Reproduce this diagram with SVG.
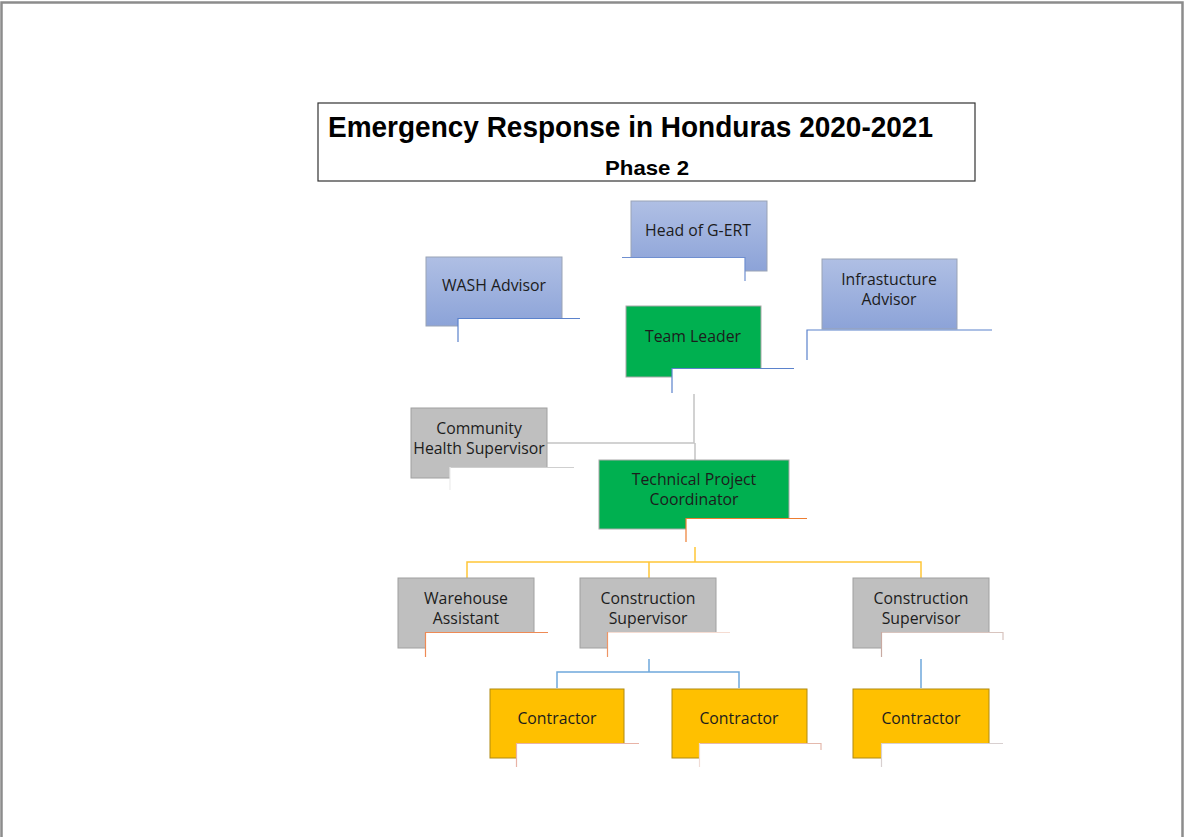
<svg xmlns="http://www.w3.org/2000/svg" width="1184" height="837" viewBox="0 0 1184 837">
<defs>
<linearGradient id="blueGrad" x1="0" y1="0" x2="0" y2="1">
<stop offset="0" stop-color="#afbfe4"/>
<stop offset="1" stop-color="#8ca3d8"/>
</linearGradient>
</defs>
<style>
.lbl{font-family:"Open Sans","Liberation Sans",sans-serif;font-size:15.8px;fill:#1c1c1c;text-anchor:middle}
.blue{fill:url(#blueGrad);stroke:#9aa3b5;stroke-width:1}
.grey{fill:#bfbfbf;stroke:#a0a0a0;stroke-width:1}
.green{fill:#00b050;stroke:#a8a8a8;stroke-width:1}
.yellow{fill:#ffc000;stroke:#b08a10;stroke-width:1}
.cover{fill:#ffffff;stroke:none}
.edge{fill:none;stroke-width:1.2}
.conn{fill:none;stroke-width:1.5}
</style>
<rect x="0" y="0" width="1184" height="837" fill="#ffffff"/>
<path d="M1.5,837 V2.5 H1182.5 V837" fill="none" stroke="#8c8c8c" stroke-width="2.5"/>

<g id="title">
<rect x="318" y="103" width="657" height="78" fill="#ffffff" stroke="#333333" stroke-width="1.2"/>
<text x="328" y="137" font-family="'Liberation Sans',Arial,sans-serif" font-weight="bold" font-size="30" fill="#000" textLength="605" lengthAdjust="spacingAndGlyphs">Emergency Response in Honduras 2020-2021</text>
<text x="647" y="175" font-family="'Liberation Sans',Arial,sans-serif" font-weight="bold" font-size="21" fill="#000" text-anchor="middle" textLength="84" lengthAdjust="spacingAndGlyphs">Phase 2</text>
</g>

<g id="connectors">
<path class="conn" stroke="#c4c4c4" d="M694,394 V443 H547 M695,443 V460"/>
<path class="conn" stroke="#ffc637" d="M695,547 V562 M467,578 V562 H921 V578 M649,562 V578"/>
<path class="conn" stroke="#6fa8dc" d="M649,659 V672 M557,688 V672 H739 V688 M921,659 V688"/>
</g>

<g id="head-gert">
<rect class="blue" x="631" y="201" width="136" height="70"/>
<text class="lbl" x="698" y="236">Head of G-ERT</text>
<rect class="cover" x="622" y="257" width="123" height="26"/>
<path class="edge" stroke="#6f8fd0" d="M622,257.5 H745 V281"/>
</g>

<g id="wash-advisor">
<rect class="blue" x="426" y="257" width="136" height="69"/>
<text class="lbl" x="494" y="291">WASH Advisor</text>
<rect class="cover" x="458" y="318" width="122" height="25"/>
<path class="edge" stroke="#5b82cc" d="M458,342 V318.5 H580"/>
</g>

<g id="infrastructure-advisor">
<rect class="blue" x="822" y="259" width="135" height="70"/>
<text class="lbl" x="889" y="285">Infrastucture</text>
<text class="lbl" x="889" y="305">Advisor</text>
<rect class="cover" x="807" y="330" width="185" height="30"/>
<path class="edge" stroke="#5b82cc" d="M807,360 V330 H992"/>
</g>

<g id="team-leader">
<rect class="green" x="626" y="306" width="135" height="71"/>
<text class="lbl" x="693" y="342">Team Leader</text>
<rect class="cover" x="672" y="368" width="122" height="25"/>
<path class="edge" stroke="#5b82cc" d="M672,393 V368.5 H794"/>
</g>

<g id="community-health-supervisor">
<rect class="grey" x="411" y="408" width="136" height="70"/>
<text class="lbl" x="479" y="434">Community</text>
<text class="lbl" x="479" y="454">Health Supervisor</text>
<rect class="cover" x="450" y="467" width="124" height="23"/>
<path class="edge" stroke="#cfcfcf" d="M574,467.5 H450"/>
<path class="edge" stroke="#ececec" d="M450,467 V490"/>
</g>

<g id="technical-project-coordinator">
<rect class="green" x="599" y="460" width="190" height="69"/>
<text class="lbl" x="694" y="485">Technical Project</text>
<text class="lbl" x="694" y="505">Coordinator</text>
<rect class="cover" x="686" y="518" width="121" height="24"/>
<path class="edge" stroke="#ed7d31" d="M686,542 V518.5 H807"/>
</g>

<g id="warehouse-assistant">
<rect class="grey" x="398" y="578" width="136" height="70"/>
<text class="lbl" x="466" y="604">Warehouse</text>
<text class="lbl" x="466" y="624">Assistant</text>
<rect class="cover" x="425" y="632" width="123" height="25"/>
<path class="edge" stroke="#ee8a55" d="M425.5,657 V632.5 H548"/>
</g>

<g id="construction-supervisor-1">
<rect class="grey" x="580" y="578" width="136" height="70"/>
<text class="lbl" x="648" y="604">Construction</text>
<text class="lbl" x="648" y="624">Supervisor</text>
<rect class="cover" x="607" y="632" width="123" height="25"/>
<path class="edge" stroke="#f5dcd2" d="M607,632.5 H730"/>
<path class="edge" stroke="#ee9566" d="M607.5,632 V657"/>
</g>

<g id="construction-supervisor-2">
<rect class="grey" x="853" y="578" width="136" height="70"/>
<text class="lbl" x="921" y="604">Construction</text>
<text class="lbl" x="921" y="624">Supervisor</text>
<rect class="cover" x="881" y="632" width="122" height="25"/>
<path class="edge" stroke="#d8c4be" d="M881,632.5 H1003 V640"/>
<path class="edge" stroke="#c8aaa2" d="M881.5,632 V657"/>
</g>

<g id="contractor-1">
<rect class="yellow" x="490" y="689" width="134" height="69"/>
<text class="lbl" x="557" y="724">Contractor</text>
<rect class="cover" x="516" y="743" width="123" height="24"/>
<path class="edge" stroke="#e8b3a6" d="M516.5,767 V743.5 H639"/>
</g>

<g id="contractor-2">
<rect class="yellow" x="672" y="689" width="135" height="69"/>
<text class="lbl" x="739" y="724">Contractor</text>
<rect class="cover" x="699" y="743" width="122" height="24"/>
<path class="edge" stroke="#e4b9ad" d="M699,743.5 H821 V750"/>
<path class="edge" stroke="#f0dcd6" d="M699.5,743 V767"/>
</g>

<g id="contractor-3">
<rect class="yellow" x="853" y="689" width="136" height="69"/>
<text class="lbl" x="921" y="724">Contractor</text>
<rect class="cover" x="881" y="743" width="122" height="24"/>
<path class="edge" stroke="#d8d0d0" d="M881.5,767 V743.5 H1003"/>
</g>
</svg>
